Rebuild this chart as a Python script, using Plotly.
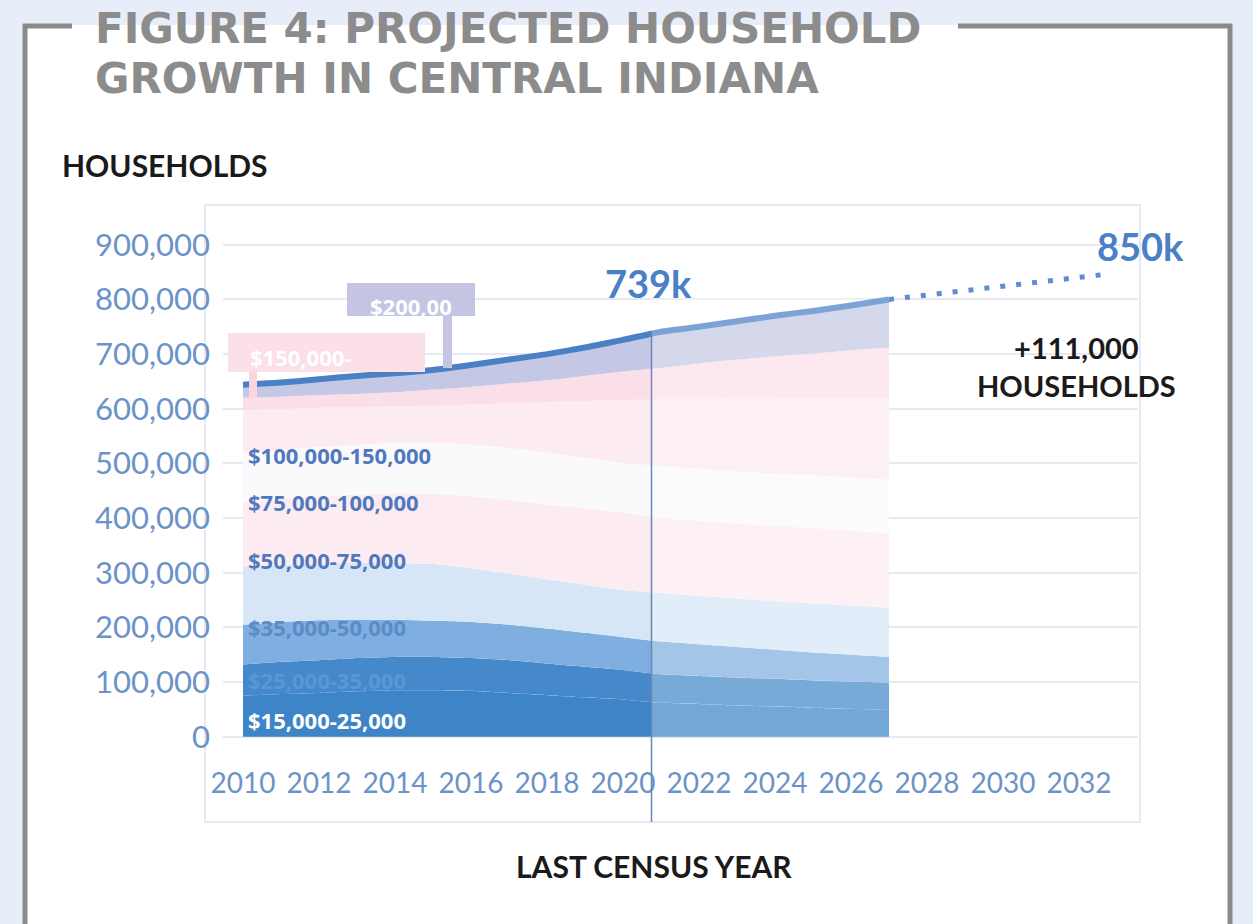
import plotly.graph_objects as go

# ---------------- data ----------------
years = list(range(2010, 2028))
layer_names = ["$15,000-25,000", "$25,000-35,000", "$35,000-50,000", "$50,000-75,000",
               "$75,000-100,000", "$100,000-125,000", "$125,000-150,000",
               "$150,000-200,000", "$200,000+"]
inc_15_25 = [75, 78, 80, 83, 85, 85, 84, 80, 76, 72, 68, 62, 60, 57, 55, 53, 51, 49]
inc_25_35 = [57, 59, 60, 61, 61, 61, 60, 60, 58, 56, 54, 52, 51, 51, 51, 50, 50, 50]
inc_35_50 = [73, 73, 73, 70, 68, 66, 66, 65, 64, 62, 60, 60, 58, 56, 53, 51, 49, 47]
inc_50_75 = [105, 104, 104, 104, 104, 104, 98, 93, 90, 88, 86, 89, 89, 89, 89, 90, 90, 90]
inc_75_100 = [120, 121, 123, 125, 127, 128, 132, 135, 137, 140, 142, 137, 137, 137, 138, 138, 137, 137]
inc_100_125 = [90, 90, 90, 91, 93, 93, 95, 95, 95, 93, 91, 95, 95, 95, 95, 96, 97, 97]
inc_125_150 = [78, 75, 72, 69, 66, 69, 73, 82, 92, 103, 115, 122, 127, 133, 137, 141, 145, 150]
inc_150_200 = [22, 22, 23, 24, 26, 29, 32, 36, 40, 46, 52, 58, 66, 72, 78, 82, 88, 92]
inc_200_plus = [24, 26, 29, 33, 35, 36, 40, 44, 48, 52, 58, 66, 67, 70, 74, 78, 82, 88]
layers_k = [inc_15_25, inc_25_35, inc_35_50, inc_50_75, inc_75_100,
            inc_100_125, inc_125_150, inc_150_200, inc_200_plus]

proj_years = [2027, 2032.7]
proj_end = 846000
census_year = 2020.75
census_value = 739000

xticks = list(range(2010, 2033, 2))
yticks = [0, 100000, 200000, 300000, 400000, 500000, 600000, 700000, 800000, 900000]
yticktext = ["0", "100,000", "200,000", "300,000", "400,000", "500,000",
             "600,000", "700,000", "800,000", "900,000"]

band_labels = ["$15,000-25,000", "$25,000-35,000", "$35,000-50,000",
               "$50,000-75,000", "$75,000-100,000", "$100,000-150,000"]
band_label_y = [31000, 104000, 200000, 324000, 430000, 516000]
band_label_colors = ["#ffffff", "#5a97d3", "#5d8bc8", "#5079bd", "#5079bd", "#5079bd"]

layer_colors = ["#3e85c7", "#4589ca", "#7eafe0", "#d6e6f6", "#fcecf2",
                "#fafafd", "#fcebf1", "#fbdfe8", "#c5c8e4"]

# ---------------- geometry (reference pixel coords) ----------------
W, H = 1253, 924
PL, PR, PT, PB = 223, 1138, 212, 764
XMIN, XMAX = 2010 - 20 / 38, 2010 + 895 / 38
YMIN, YMAX = -50000, 960000


def px(x):
    return (x - PL) / (PR - PL)


def py(y):
    return (PB - y) / (PB - PT)


def ydata_to_paper(v):
    return (v - YMIN) / (YMAX - YMIN)


fig = go.Figure()

for name, vals, col in zip(layer_names, layers_k, layer_colors):
    fig.add_trace(go.Scatter(
        x=years, y=[v * 1000 for v in vals], name=name, stackgroup="inc",
        mode="lines", line=dict(width=0, shape="spline", smoothing=0.5),
        fillcolor=col, hoverinfo="skip", showlegend=False))

total = [sum(v[i] for v in layers_k) * 1000 for i in range(len(years))]
fig.add_trace(go.Scatter(x=years, y=total, mode="lines",
                         line=dict(color="#4a80c6", width=6, shape="spline", smoothing=0.5),
                         hoverinfo="skip", showlegend=False))
fig.add_trace(go.Scatter(x=proj_years, y=[total[-1], proj_end], mode="lines",
                         line=dict(color="#5b8fd0", width=5, dash="5px,11px"),
                         hoverinfo="skip", showlegend=False))

shapes = []
shapes.append(dict(type="rect", xref="paper", yref="paper", layer="below",
                   x0=px(25), x1=px(1230), y0=py(25), y1=py(940),
                   fillcolor="white", line=dict(width=0)))
frame = dict(color="#8a8a8a", width=5)
shapes.append(dict(type="line", xref="paper", yref="paper", x0=px(25), x1=px(25),
                   y0=py(24), y1=py(940), line=frame))
shapes.append(dict(type="line", xref="paper", yref="paper", x0=px(1230), x1=px(1230),
                   y0=py(24), y1=py(940), line=frame))
shapes.append(dict(type="line", xref="paper", yref="paper", x0=px(23), x1=px(72),
                   y0=py(26), y1=py(26), line=frame))
shapes.append(dict(type="line", xref="paper", yref="paper", x0=px(958), x1=px(1232),
                   y0=py(26), y1=py(26), line=frame))
shapes.append(dict(type="rect", xref="paper", yref="paper", layer="below",
                   x0=px(205), x1=px(1140), y0=py(205), y1=py(822),
                   fillcolor="rgba(0,0,0,0)", line=dict(color="#e6e9f1", width=2)))
shapes.append(dict(type="rect", xref="x", yref="y", layer="above",
                   x0=census_year, x1=years[-1], y0=0, y1=total[-1] + 15000,
                   fillcolor="rgba(255,255,255,0.28)", line=dict(width=0)))
shapes.append(dict(type="line", xref="x", yref="paper", x0=census_year, x1=census_year,
                   y0=py(822), y1=ydata_to_paper(census_value),
                   line=dict(color="#6a87b8", width=1.5)))
shapes.append(dict(type="rect", xref="paper", yref="paper", layer="above",
                   x0=px(228), x1=px(425), y0=py(333), y1=py(372),
                   fillcolor="#fbe0e8", line=dict(width=0)))
shapes.append(dict(type="rect", xref="paper", yref="paper", layer="above",
                   x0=px(249), x1=px(257), y0=py(372), y1=py(398),
                   fillcolor="#f8d6e1", line=dict(width=0)))
shapes.append(dict(type="rect", xref="paper", yref="paper", layer="above",
                   x0=px(347), x1=px(475), y0=py(283), y1=py(316),
                   fillcolor="#c3c5e2", line=dict(width=0)))
shapes.append(dict(type="rect", xref="paper", yref="paper", layer="above",
                   x0=px(443), x1=px(452), y0=py(316), y1=py(368),
                   fillcolor="#c3c5e2", line=dict(width=0)))

ann = []


def text(x, y, s, size, color, anchor="left", family="Lato", bold=True):
    ann.append(dict(xref="paper", yref="paper", x=px(x), y=py(y), text=(f"<b>{s}</b>" if bold else s),
                    showarrow=False, xanchor=anchor, yanchor="middle",
                    font=dict(family=family, size=size, color=color)))


text(93, 28, "FIGURE 4: PROJECTED HOUSEHOLD", 42, "#8c8c8c", family="DejaVu Sans")
text(93, 78, "GROWTH IN CENTRAL INDIANA", 42, "#8c8c8c", family="DejaVu Sans")
text(60, 165, "HOUSEHOLDS", 30, "#1a1a1a")
text(648, 283, "739k", 38, "#4a80c6", "center")
text(1140, 246, "850k", 38, "#4a80c6", "center")
text(1076, 366, "+111,000<br>HOUSEHOLDS", 29, "#1a1a1a", "center")
text(654, 866, "LAST CENSUS YEAR", 30, "#1a1a1a", "center")
text(248, 357, "$150,000-", 22, "#ffffff", family="Open Sans")
text(368, 306, "$200,00", 22, "#ffffff", family="Open Sans")

for s, yv, c in zip(band_labels, band_label_y, band_label_colors):
    ann.append(dict(xref="x", yref="y", x=2010, y=yv, xshift=3, text=f"<b>{s}</b>",
                    showarrow=False, xanchor="left", yanchor="middle",
                    font=dict(family="Open Sans", size=22, color=c)))

fig.update_layout(
    width=W, height=H,
    margin=dict(l=PL, r=W - PR, t=PT, b=H - PB, pad=0),
    paper_bgcolor="#e8eef9", plot_bgcolor="rgba(0,0,0,0)",
    shapes=shapes, annotations=ann, showlegend=False,
    xaxis=dict(range=[XMIN, XMAX], tickvals=xticks, showgrid=False, zeroline=False,
               showline=False, ticks="", tickfont=dict(family="Lato", size=28, color="#6b93c9")),
    yaxis=dict(range=[YMIN, YMAX], tickvals=yticks, ticktext=yticktext, showgrid=True,
               gridcolor="#e6e9f0", gridwidth=2, zeroline=False, showline=False, ticks="",
               ticklabelstandoff=12,
               tickfont=dict(family="Lato", size=31, color="#6b93c9")),
)

fig.write_html("out.html", config={"displayModeBar": False, "staticPlot": True},
               post_script="document.body.style.margin='0';document.body.style.overflow='hidden';")
